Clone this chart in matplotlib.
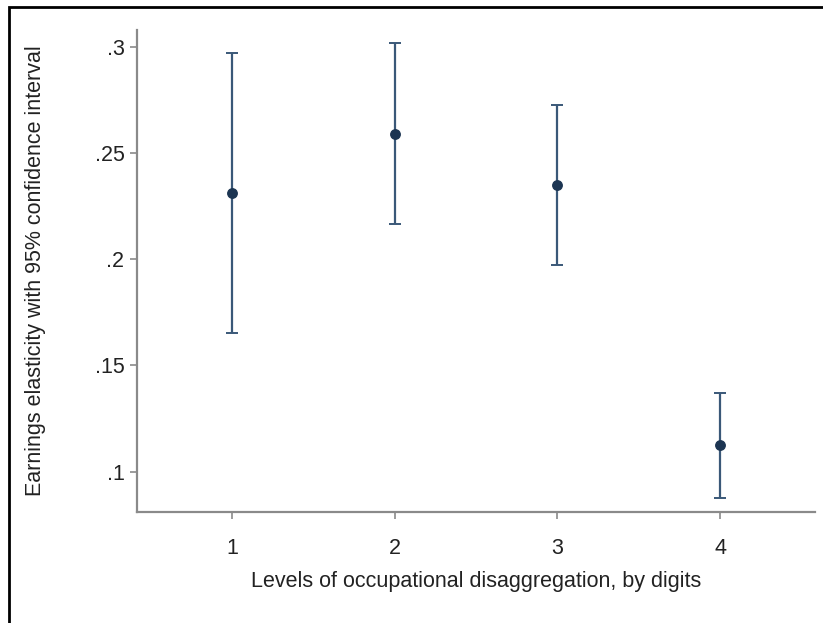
import matplotlib
matplotlib.use('Agg')
import matplotlib.pyplot as plt
from matplotlib.patches import Rectangle
import numpy as np

matplotlib.rc('font', family=['Liberation Sans', 'DejaVu Sans'], size=15.5)

# levels of disaggregation and estimates
levels = [1, 2, 3, 4]
estimate = [0.2313, 0.2589, 0.2349, 0.1124]
ci_low = [0.1654, 0.2166, 0.1973, 0.0875]
ci_high = [0.2971, 0.3015, 0.2724, 0.1370]
yticks = [0.1, 0.15, 0.2, 0.25, 0.3]
ytick_labels = ['.1', '.15', '.2', '.25', '.3']

fig = plt.figure(figsize=(8.23, 6.23), dpi=100)
ax = fig.add_axes([137/823, 1 - 512/623, (815 - 137)/823, (512 - 30)/623])

est = np.array(estimate)
err = np.vstack([est - np.array(ci_low), np.array(ci_high) - est])
ax.errorbar(levels, est, yerr=err, fmt='none', ecolor='#3a5878',
            elinewidth=1.6, capsize=4.3, capthick=1.4, zorder=2)
ax.plot(levels, est, 'o', color='#1c3552', markersize=6.8, zorder=3)

ax.set_xlim(0.416, 4.584)
ax.set_ylim(0.081, 0.3078)
ax.set_xticks(levels)
ax.set_xticklabels([str(v) for v in levels])
ax.set_yticks(yticks)
ax.set_yticklabels(ytick_labels)

ax.set_xlabel('Levels of occupational disaggregation, by digits', labelpad=8,
              color='#222222')
ax.set_ylabel('Earnings elasticity with 95% confidence interval', labelpad=35,
              color='#222222')

for s in ['top', 'right']:
    ax.spines[s].set_visible(False)
for s in ['left', 'bottom']:
    ax.spines[s].set_color('#8a8a8a')
    ax.spines[s].set_linewidth(1.6)
ax.tick_params(direction='out', length=5, width=1.2, color='#8a8a8a',
               labelcolor='#222222')
ax.tick_params(axis='x', pad=14)
ax.tick_params(axis='y', pad=4)

# outer frame of the graph (cut off at right and bottom)
fig.patches.append(Rectangle((9/823, -0.05), 1.2, 1 - 7/623 + 0.05,
                             transform=fig.transFigure, fill=False,
                             edgecolor='black', linewidth=2))

fig.savefig('out.png', dpi=100)
